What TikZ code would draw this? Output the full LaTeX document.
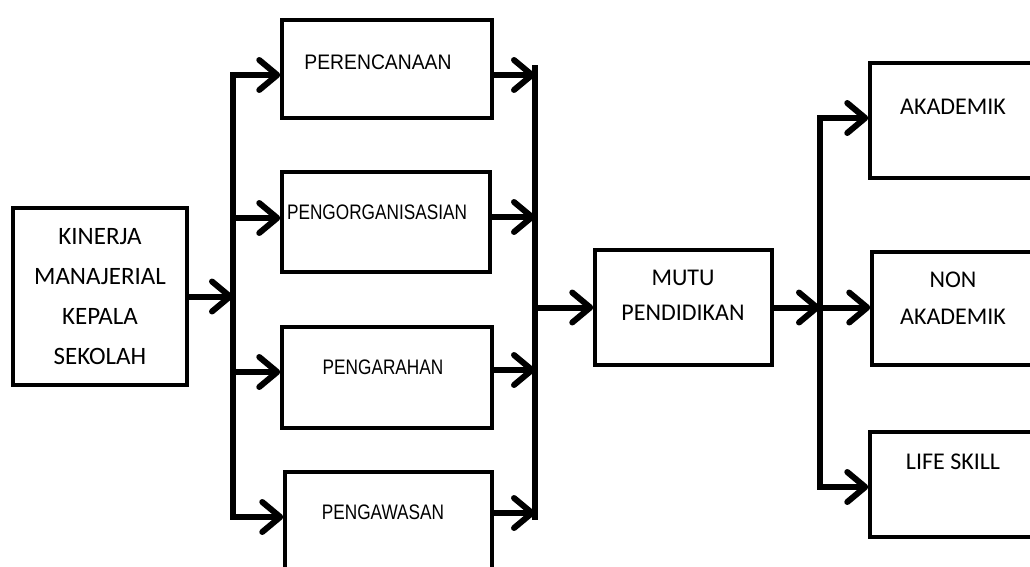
\documentclass[tikz,border=0pt]{standalone}
\usepackage{fontspec}
\setmainfont{Liberation Sans}
\newfontfamily\calfont{Carlito}
\newfontfamily\arnfont[FakeStretch=0.82]{Liberation Sans}
\newfontfamily\arpfont[FakeStretch=0.92]{Liberation Sans}
\usetikzlibrary{arrows.meta,calc}
\begin{document}
\begin{tikzpicture}[x=1pt,y=-1pt,
  box/.style={draw=black,line width=3.5pt,inner sep=0pt},
  bus/.style={line width=6pt,line cap=rect},
  arr/.style={line width=6pt,-{Straight Barb[length=18pt,width=30pt,round]}},
  calt/.style={font=\calfont\fontsize{24}{36}\selectfont,align=center,inner sep=0pt},
  calk/.style={font=\calfont\fontsize{25}{40}\selectfont,align=center},
  arnt/.style={font=\arnfont\fontsize{21}{25}\selectfont,inner sep=0pt},
  arpt/.style={font=\arpfont\fontsize{21}{25}\selectfont,inner sep=0pt}]
\clip (0,0) rectangle (1030,567);
\fill[white] (0,0) rectangle (1030,567);
% boxes
\node[box,calk,minimum width=174pt,minimum height=177pt] (k) at (100,296.5) {KINERJA\\MANAJERIAL\\KEPALA\\SEKOLAH};
\node[box,minimum width=210pt,minimum height=98pt] (p1) at (387,69) {};
\node[arpt] (t1) at (378,62) {PERENCANAAN};
\node[box,minimum width=208pt,minimum height=100pt] (p2) at (386,222) {};
\node[arnt] (t2) at (377,212) {PENGORGANISASIAN};
\node[box,minimum width=210pt,minimum height=101pt] (p3) at (387,377.5) {};
\node[arnt] (t3) at (383,367) {PENGARAHAN};
\node[box,minimum width=207pt,minimum height=128pt] (p4) at (388.5,536) {};
\node[arnt] (t4) at (383,512) {PENGAWASAN};
\node[box,minimum width=177pt,minimum height=115pt] (m) at (683.5,307.5) {};
\node[calt,font=\calfont\fontsize{24}{35}\selectfont] (tm) at (683,295.5) {MUTU\\PENDIDIKAN};
\node[box,minimum width=175pt,minimum height=115pt] (a) at (957.5,120.5) {};
\node[calt] (ta) at (953,107) {AKADEMIK};
\node[box,minimum width=173pt,minimum height=113pt] (n) at (958.5,308.5) {};
\node[calt,font=\calfont\fontsize{24}{37}\selectfont] (tn) at (953,298.5) {NON\\AKADEMIK};
\node[box,minimum width=175pt,minimum height=105pt] (l) at (957.5,484.5) {};
\node[calt] (tl) at (953,462) {LIFE SKILL};
% bus coordinates
\coordinate (L1) at (233,75);
\coordinate (L2) at (233,218);
\coordinate (L3) at (233,372);
\coordinate (L4) at (233,517);
\coordinate (Rtop) at (535,68);
\coordinate (R1) at (535,75);
\coordinate (R2) at (535,217);
\coordinate (R3) at (535,370);
\coordinate (R4) at (535,513);
\coordinate (Rbot) at (535,517);
\coordinate (Q1) at (820,118);
\coordinate (Q3) at (820,487);
% left bus
\draw[bus] (L1) -- (L4);
\draw[arr] (k.east) -- (k.east -| L1);
\draw[arr] (L1) -- (L1 -| p1.west);
\draw[arr] (L2) -- (L2 -| p2.west);
\draw[arr] (L3) -- (L3 -| p3.west);
\draw[arr] (L4) -- (L4 -| p4.west);
% right bus
\draw[bus] (Rtop) -- (Rbot);
\draw[arr] (R1 -| p1.east) -- (R1);
\draw[arr] (R2 -| p2.east) -- (R2);
\draw[arr] (R3 -| p3.east) -- (R3);
\draw[arr] (R4 -| p4.east) -- (R4);
\draw[arr] (m.west -| Rtop) -- (m.west);
% output bus
\draw[arr] (m.east) -- (m.east -| Q1);
\draw[bus] (Q1) -- (Q3);
\draw[arr] (Q1) -- (Q1 -| a.west);
\draw[arr] (m.east -| Q1) -- (m.east -| n.west);
\draw[arr] (Q3) -- (Q3 -| l.west);
\end{tikzpicture}
\end{document}
